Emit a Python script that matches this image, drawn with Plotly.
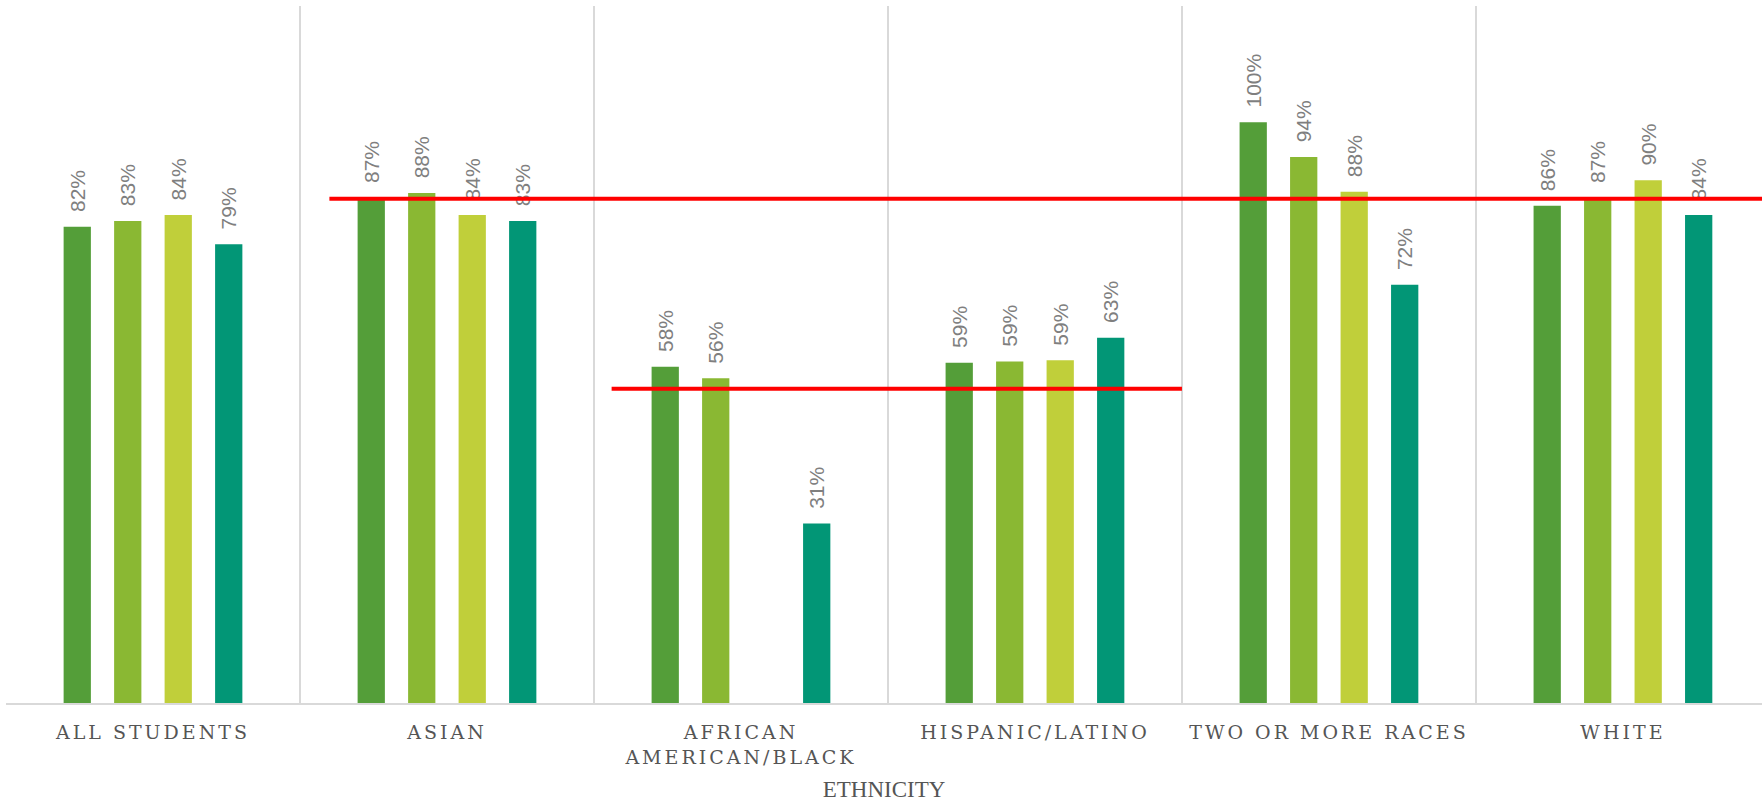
import plotly.graph_objects as go

categories = ["ALL STUDENTS", "ASIAN", "AFRICAN<br>AMERICAN/BLACK", "HISPANIC/LATINO",
              "TWO OR MORE RACES", "WHITE"]
series_names = ["Series 1", "Series 2", "Series 3", "Series 4"]
series1 = [82.0, 87.0, 57.9, 58.6, 100.0, 85.6]
series2 = [83.0, 87.8, 55.9, 58.8, 94.0, 87.0]
series3 = [84.0, 84.0, None, 59.0, 88.0, 90.0]
series4 = [79.0, 83.0, 30.9, 62.9, 72.0, 84.0]
colors = ["#549E39", "#8AB833", "#C0CF3A", "#029676"]

# reference lines: level, start / end on the category axis (category index)
ref_levels = [86.8, 54.1]
ref_start = [0.60, 1.56]
ref_end = [5.6, 3.5]

axis_title = "ETHNICITY"


def spaced(label, ls=3):
    return "<br>".join(
        f'<span style="letter-spacing:{ls}px">{part}</span>' for part in label.split("<br>")
    )


tick_text = [spaced(c) for c in categories]

fig = go.Figure()
for name, vals, col in zip(series_names, [series1, series2, series3, series4], colors):
    fig.add_trace(go.Bar(
        x=categories, y=vals, name=name,
        marker=dict(color=col, line=dict(width=0)),
        text=[None if v is None else f"\u00a0\u00a0{round(v):.0f}%" for v in vals],
        textposition="outside", textangle=-90, constraintext="none",
        cliponaxis=False,
        textfont=dict(family="Liberation Sans", size=21, color="#7F7F7F"),
        hoverinfo="skip",
    ))

for lvl, x0, x1 in zip(ref_levels, ref_start, ref_end):
    fig.add_shape(type="line", xref="x", yref="y", x0=x0, x1=x1, y0=lvl, y1=lvl,
                  line=dict(color="#FF0000", width=4), layer="above")

fig.update_layout(
    width=1762, height=802,
    margin=dict(l=6, r=0, t=6, b=99, pad=0),
    paper_bgcolor="white", plot_bgcolor="white",
    barmode="group", bargap=0.313, bargroupgap=0.46,
    showlegend=False,
)
fig.update_xaxes(
    type="category", range=[-0.5, 5.473], automargin=False,
    tickmode="array", tickvals=categories, ticktext=tick_text,
    tickson="boundaries", showgrid=True, gridcolor="#D9D9D9", gridwidth=1.5,
    showline=True, linecolor="#D9D9D9", linewidth=2,
    ticks="", ticklabelstandoff=11,
    tickfont=dict(family="DejaVu Serif", size=19, color="#555555"),
    title=dict(text=axis_title, standoff=19,
               font=dict(family="Liberation Serif", size=23, color="#555555")),
)
fig.update_yaxes(range=[0, 120], showgrid=False, showticklabels=False,
                 zeroline=False, showline=False, automargin=False)

fig.write_html("out.html")
